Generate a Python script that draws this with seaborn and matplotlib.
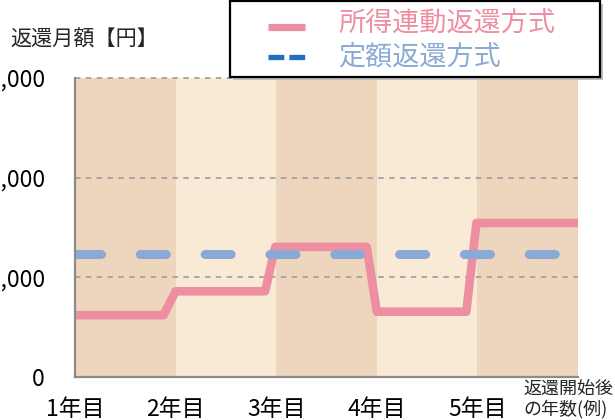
import matplotlib
matplotlib.use("Agg")
import matplotlib.pyplot as plt
from matplotlib.patches import Rectangle
from matplotlib.lines import Line2D
import seaborn as sns
import pandas as pd

# ---- data ----
income_x = [0, 0.88, 1.0, 1.89, 1.99, 2.90, 3.0, 3.89, 3.99, 5.0]
income_y = [6200, 6200, 8600, 8600, 13050, 13050, 6550, 6550, 15450, 15450]
fixed_x = [0, 5]
fixed_y = [12330, 12330]
year_starts = [0, 1, 2, 3, 4]
year_labels = ["1年目", "2年目", "3年目", "4年目", "5年目"]
y_ticks = [0, 10000, 20000, 30000]
y_tick_labels = ["0", "10,000", "20,000", "30,000"]
series_names = ["所得連動返還方式", "定額返還方式"]
y_label = "返還月額【円】"
x_label = "返還開始後\nの年数(例)"

PINK = "#EE8FA1"
BLUE = "#8AAAD5"
BLUE_HANDLE = "#1E70C0"
BAND_DARK = "#EDD5BE"
BAND_LIGHT = "#F9EAD6"
GRID = "#A3A3A3"

sns.set_theme(style="white")
plt.rcParams["font.family"] = ["Noto Sans CJK JP", "DejaVu Sans"]

W, H = 615, 420
fig = plt.figure(figsize=(W / 100, H / 100), dpi=100)
ax = fig.add_axes([75 / W, (H - 377) / H, 503 / W, 299 / H])

# background bands
for i, s in enumerate(year_starts):
    ax.axvspan(s, s + 1, color=BAND_DARK if i % 2 == 0 else BAND_LIGHT, lw=0, zorder=0)

df_inc = pd.DataFrame({"x": income_x, "y": income_y})
df_fix = pd.DataFrame({"x": fixed_x, "y": fixed_y})
sns.lineplot(data=df_fix, x="x", y="y", ax=ax, color=BLUE, lw=6.5, sort=False,
             estimator=None, zorder=3)
sns.lineplot(data=df_inc, x="x", y="y", ax=ax, color=PINK, lw=6.2, sort=False,
             estimator=None, zorder=2)
blue_line, pink_line = ax.lines[0], ax.lines[1]
blue_line.set_dashes([2.88, 4.3])
blue_line.set_dash_capstyle("round")
pink_line.set_solid_joinstyle("round")
pink_line.set_solid_capstyle("round")

ax.set_xlim(0, 5)
ax.set_ylim(0, 30000)
ax.set_xlabel("")
ax.set_ylabel("")

ax.set_yticks(y_ticks)
ax.set_yticklabels(y_tick_labels, fontsize=16.5, color="black")
ax.set_xticks(year_starts)
ax.set_xticklabels(year_labels, fontsize=16.5, color="black")
ax.tick_params(axis="y", length=0, pad=21.6)
ax.tick_params(axis="x", length=0, pad=15)

ax.set_axisbelow(True)
ax.yaxis.grid(True, color=GRID, lw=1.3, linestyle=(0, (3, 3)))
for gl in ax.get_ygridlines():
    gl.set_clip_on(False)
ax.xaxis.grid(False)

for side in ["top", "right"]:
    ax.spines[side].set_visible(False)
for side in ["left", "bottom"]:
    ax.spines[side].set_color("#8C8C8C")
    ax.spines[side].set_linewidth(1.6)
    ax.spines[side].set_zorder(4)

# y label and x label
fig.text(10 / W, 1 - 40 / H, y_label, fontsize=15.2, va="center", ha="left")
fig.text(523 / W, 1 - 381 / H, x_label, fontsize=13, va="top", ha="left",
         linespacing=1.05)

# legend box
lx0, ly0, lx1, ly1 = 230, 1, 600, 77
fig.patches.append(Rectangle((lx0 / W + 3 / W, 1 - (ly1 + 3) / H), (lx1 - lx0) / W, (ly1 - ly0) / H,
                             transform=fig.transFigure, facecolor="#BDBDBD", edgecolor="none",
                             zorder=9, figure=fig))
fig.patches.append(Rectangle((lx0 / W, 1 - ly1 / H), (lx1 - lx0) / W, (ly1 - ly0) / H,
                             transform=fig.transFigure, facecolor="white", edgecolor="black",
                             lw=1.6, zorder=10, figure=fig))
fig.lines.append(Line2D([268 / W, 305 / W], [1 - 27 / H, 1 - 27 / H], transform=fig.transFigure,
                        color=PINK, lw=5.2, solid_capstyle="butt", zorder=11))
fig.lines.append(Line2D([268 / W, 307 / W], [1 - 57 / H, 1 - 57 / H], transform=fig.transFigure,
                        color=BLUE_HANDLE, lw=3.8, dashes=[3.0, 0.95],
                        dash_capstyle="butt", zorder=11))
for lbl, c, yy in zip(series_names, [PINK, BLUE], [24, 57]):
    fig.text(338 / W, 1 - yy / H, lbl, fontsize=19.5, color=c, va="center", ha="left", zorder=12)

fig.savefig("out.png", dpi=100)
